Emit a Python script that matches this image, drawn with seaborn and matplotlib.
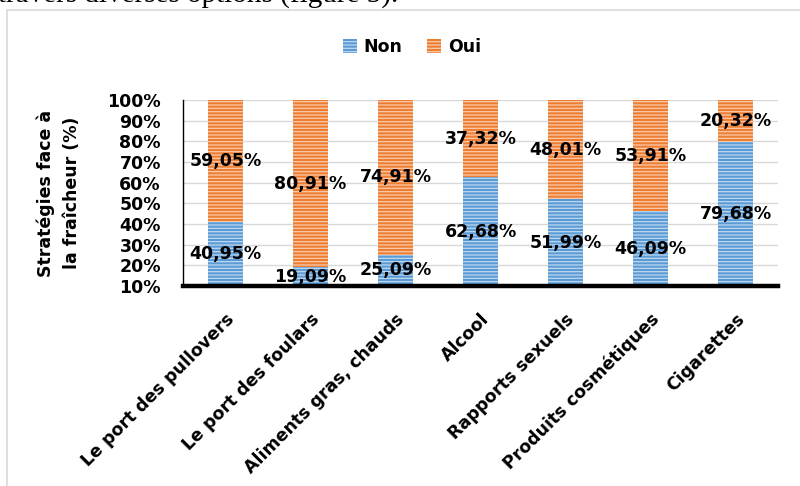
import matplotlib
matplotlib.use("Agg")
import matplotlib.pyplot as plt
import matplotlib.patches as mpatches
from matplotlib.transforms import ScaledTranslation
import seaborn as sns
import pandas as pd

categories = ["Le port des pullovers", "Le port des foulars", "Aliments gras, chauds",
              "Alcool", "Rapports sexuels", "Produits cosmétiques", "Cigarettes"]
non = [40.95, 19.09, 25.09, 62.68, 51.99, 46.09, 79.68]
oui = [59.05, 80.91, 74.91, 37.32, 48.01, 53.91, 20.32]
yticks = [10, 20, 30, 40, 50, 60, 70, 80, 90, 100]

blue = "#5B9BD5"
orange = "#ED7D31"
stripe = (1, 1, 1, 0.6)

sns.set_style("white")
plt.rcParams["font.family"] = ["DejaVu Sans"]
plt.rcParams["hatch.linewidth"] = 0.9
for k in ["text.color", "axes.labelcolor", "xtick.color", "ytick.color"]:
    plt.rcParams[k] = "black"

df = pd.DataFrame({"cat": categories, "non": non, "oui": oui})
df["total"] = df["non"] + df["oui"]

fig = plt.figure(figsize=(8, 4.86), dpi=100)
ax = fig.add_axes([183 / 800, 1 - 286 / 486, 595 / 800, 186 / 486])

# stacked: full bar in orange, then the "Non" part over it
sns.barplot(data=df, x="cat", y="total", color=orange, saturation=1, width=0.41,
            hatch="-----", edgecolor=stripe, linewidth=0, ax=ax, zorder=2)
sns.barplot(data=df, x="cat", y="non", color=blue, saturation=1, width=0.41,
            hatch="-----", edgecolor=stripe, linewidth=0, ax=ax, zorder=2)

ax.set_ylim(10, 100)
ax.set_xlim(-0.5, len(categories) - 0.5)
ax.set_yticks(yticks)
ax.set_yticklabels([f"{t}%" for t in yticks], fontsize=12.5, fontweight="bold")
ax.yaxis.grid(True, color="#d9d9d9", linewidth=1, zorder=0)
ax.set_axisbelow(True)
ax.set_xlabel("")
ax.set_ylabel("Stratégies face à\nla fraîcheur (%)", fontsize=12.5, fontweight="bold",
              labelpad=19, linespacing=1.55)
ax.set_xticks(range(len(categories)))
ax.set_xticklabels(categories, rotation=45, ha="right", va="center", rotation_mode="anchor",
                   fontsize=12.5, fontweight="bold")
ax.tick_params(axis="y", length=0, pad=16)
ax.tick_params(axis="x", length=0, pad=22)
for lab in ax.get_xticklabels():
    lab.set_transform(lab.get_transform() + ScaledTranslation(6 / 100, 0, fig.dpi_scale_trans))

for s in ["top", "right"]:
    ax.spines[s].set_visible(False)
ax.spines["left"].set_color("black")
ax.spines["left"].set_linewidth(1.0)
ax.spines["bottom"].set_color("black")
ax.spines["bottom"].set_linewidth(3.2)
ax.spines["bottom"].set_zorder(5)

def fmt(v):
    return f"{v:.2f}%".replace(".", ",")

for i, (n, o) in enumerate(zip(non, oui)):
    ax.text(i, (10 + n) / 2, fmt(n), ha="center", va="center", fontsize=12.5,
            fontweight="bold", zorder=4)
    ax.text(i, n + o / 2, fmt(o), ha="center", va="center", fontsize=12.5,
            fontweight="bold", zorder=4)

handles = [mpatches.Patch(facecolor=blue, hatch="-----", edgecolor=stripe, linewidth=0, label="Non"),
           mpatches.Patch(facecolor=orange, hatch="-----", edgecolor=stripe, linewidth=0, label="Oui")]
fig.legend(handles=handles, loc="center", bbox_to_anchor=(412 / 800, 1 - 47 / 486), ncol=2,
           frameon=False, prop={"weight": "bold", "size": 12.5}, handlelength=0.8,
           handleheight=0.8, handletextpad=0.4, columnspacing=1.4)

# chart frame and the cropped line of text above it
fig.patches.append(mpatches.Rectangle((7 / 800, -0.1), 1.0, 1 - 10 / 486 + 0.1,
                                      transform=fig.transFigure, fill=False,
                                      edgecolor="#d9d9d9", linewidth=1.2))
fig.text(-0.002, 1 - 3 / 486, "travers diverses options (figure 5).", ha="left", va="baseline",
         fontsize=21, family=["Liberation Serif", "DejaVu Serif"])

fig.savefig("out.png", dpi=100)
